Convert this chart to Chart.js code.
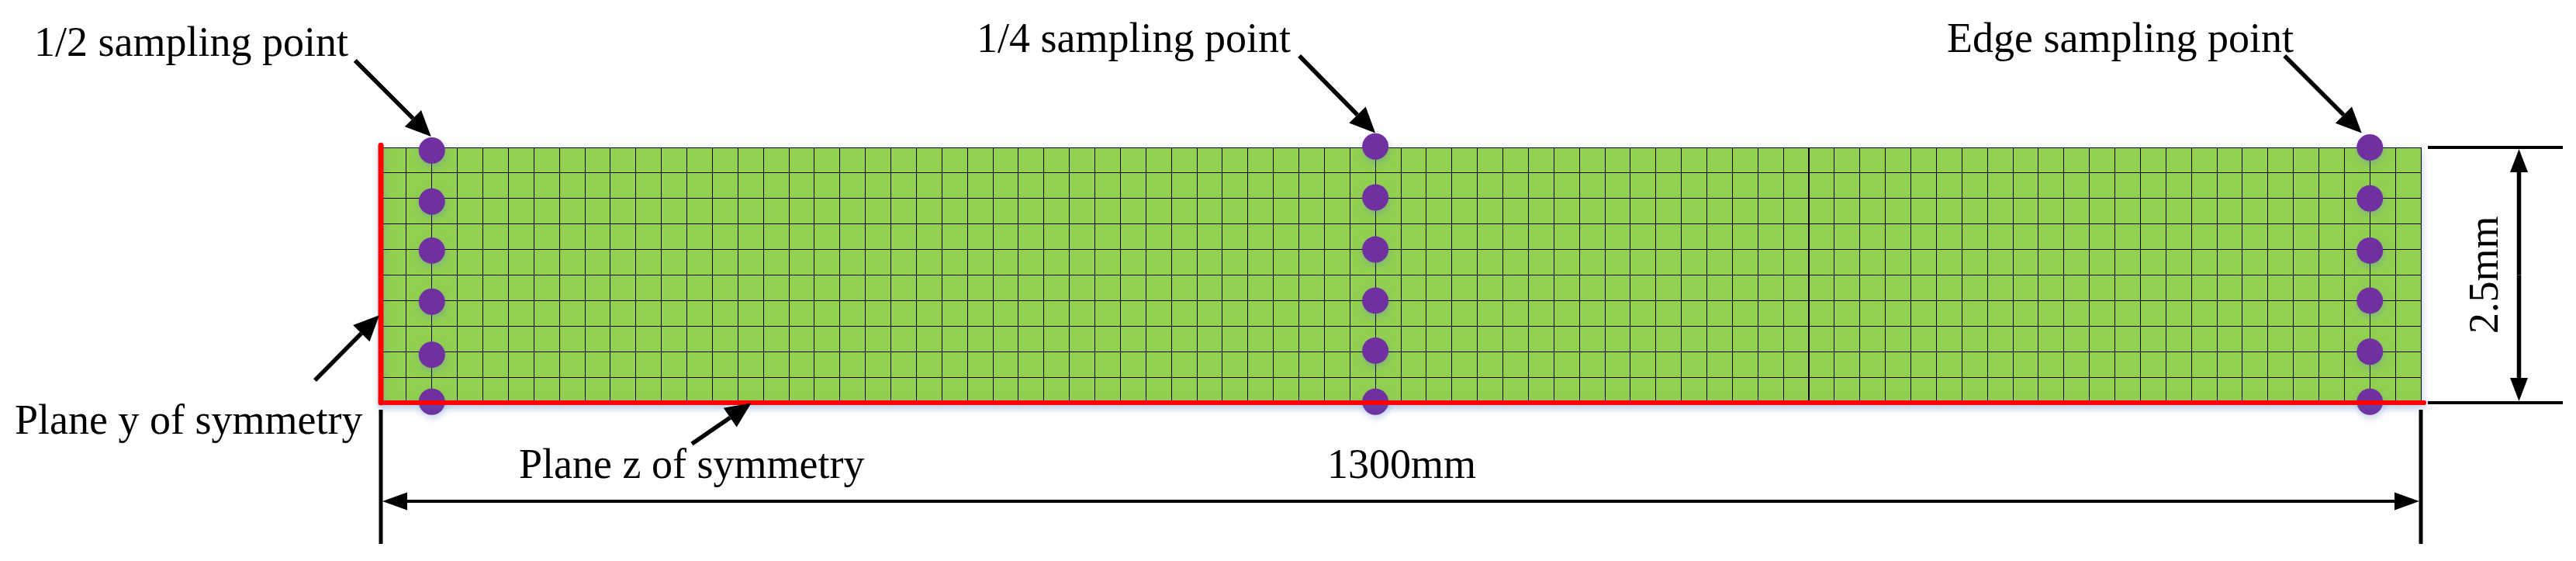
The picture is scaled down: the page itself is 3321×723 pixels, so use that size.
<!DOCTYPE html>
<html>
    <head>
        <meta charset="utf-8">
        <style>
            html, body { margin: 0; padding: 0; background: #fff; }
            canvas { display: block; }
        </style>
        <script src="https://cdn.jsdelivr.net/npm/chart.js@4/dist/chart.umd.js"></script>
    </head>
    <body>
        <canvas id="myChart" width="3321" height="723"></canvas>

        <script>
            // plate size in mm and the mesh step along each side
            const plateLength = 1300;
            const plateHeight = 2.5;
            const meshStepX = 16.25;
            const meshStepY = 0.25;

            // sampling points, [x, y] in mm
            const halfPoints = [[32.5, 2.47], [32.5, 1.97], [32.5, 1.49], [32.5, 0.99], [32.5, 0.47], [32.5, 0.01]];
            const quarterPoints = [[633.75, 2.51], [633.75, 2.01], [633.75, 1.50], [633.75, 1.00], [633.75, 0.51], [633.75, 0.01]];
            const edgePoints = [[1267.5, 2.50], [1267.5, 2.00], [1267.5, 1.49], [1267.5, 1.00], [1267.5, 0.50], [1267.5, 0.01]];

            // symmetry planes
            const planeY = [[0, 0], [0, 2.52]];
            const planeZ = [[0, 0], [1302, 0]];

            const labelTexts = ['1/2 sampling point', '1/4 sampling point', 'Edge sampling point', 'Plane y of symmetry', 'Plane z of symmetry', '1300mm', '2.5mm'];

            // where the annotations sit: a point in mm plus a pixel offset
            const labelSpots = [
                { at: [0, 2.5], dx: -447, dy: -118.5 },
                { at: [0, 2.5], dx: 768, dy: -123 },
                { at: [0, 2.5], dx: 2019, dy: -123 },
                { at: [0, 0], dx: -472, dy: 39.5 },
                { at: [0, 0], dx: 178, dy: 97 },
                { at: [0, 0], dx: 1220, dy: 97 },
            ];
            const arrows = [
                { at: [32.5, 2.5], tail: [-99, -112], tip: [-1, -14] },
                { at: [633.75, 2.5], tail: [-98, -118], tip: [0, -18.5] },
                { at: [1267.5, 2.5], tail: [-110, -118], tip: [-10.5, -18.5] },
                { at: [0, 0.85], tail: [-85, 83], tip: [-2, -1] },
                { at: [236, 0], tail: [-76.5, 53], tip: [0, 0.5] },
            ];

            const GREEN = '#92D050';
            const PURPLE = '#7030A0';
            const RED = '#FF0000';
            const FONT = '54px "Liberation Serif"';

            function arrowLine(ctx, x1, y1, x2, y2, lineWidth, headLength, headWidth) {
                const angle = Math.atan2(y2 - y1, x2 - x1);
                const bx = x2 - headLength * Math.cos(angle);
                const by = y2 - headLength * Math.sin(angle);
                ctx.lineWidth = lineWidth;
                ctx.beginPath();
                ctx.moveTo(x1, y1);
                ctx.lineTo(bx, by);
                ctx.stroke();
                ctx.beginPath();
                ctx.moveTo(x2, y2);
                ctx.lineTo(bx - headWidth / 2 * Math.sin(angle), by + headWidth / 2 * Math.cos(angle));
                ctx.lineTo(bx + headWidth / 2 * Math.sin(angle), by - headWidth / 2 * Math.cos(angle));
                ctx.closePath();
                ctx.fill();
            }

            // green plate under the grid, with the soft blue shadow it has in the figure
            const plateFill = {
                id: 'plateFill',
                beforeDraw(chart) {
                    const { ctx, chartArea: a } = chart;
                    ctx.save();
                    ctx.shadowColor = 'rgba(90, 130, 200, 0.35)';
                    ctx.shadowBlur = 10;
                    ctx.shadowOffsetX = 2;
                    ctx.shadowOffsetY = 4;
                    ctx.fillStyle = GREEN;
                    ctx.fillRect(a.left, a.top, a.right - a.left, a.bottom - a.top);
                    ctx.restore();
                },
                beforeDatasetDraw(chart) {
                    const ctx = chart.ctx;
                    ctx.save();
                    ctx.shadowColor = 'rgba(90, 130, 200, 0.35)';
                    ctx.shadowBlur = 8;
                    ctx.shadowOffsetX = 1;
                    ctx.shadowOffsetY = 4;
                },
                afterDatasetDraw(chart) {
                    chart.ctx.restore();
                },
            };

            const annotations = {
                id: 'annotations',
                afterDatasetsDraw(chart) {
                    const { ctx, scales: { x, y } } = chart;
                    const px = (p) => [x.getPixelForValue(p[0]), y.getPixelForValue(p[1])];
                    ctx.save();
                    ctx.fillStyle = '#000';
                    ctx.strokeStyle = '#000';

                    // labels
                    ctx.font = FONT;
                    ctx.textBaseline = 'alphabetic';
                    labelSpots.forEach((spot, i) => {
                        const p = px(spot.at);
                        ctx.fillText(labelTexts[i], p[0] + spot.dx, p[1] + spot.dy);
                    });

                    // callout arrows
                    arrows.forEach((a) => {
                        const p = px(a.at);
                        arrowLine(ctx, p[0] + a.tail[0], p[1] + a.tail[1], p[0] + a.tip[0], p[1] + a.tip[1], 5.5, 33, 30);
                    });

                    // 1300mm dimension
                    const [x0, y0] = px([0, 0]);
                    const [x1, y1] = px([plateLength, plateHeight]);
                    ctx.lineWidth = 5;
                    ctx.beginPath();
                    ctx.moveTo(x0, y0 + 9);
                    ctx.lineTo(x0, y0 + 182);
                    ctx.moveTo(x1, y0 + 9);
                    ctx.lineTo(x1, y0 + 182);
                    ctx.stroke();
                    const dimY = y0 + 127;
                    arrowLine(ctx, (x0 + x1) / 2, dimY, x0 + 2, dimY, 4, 32, 23);
                    arrowLine(ctx, (x0 + x1) / 2, dimY, x1 - 2, dimY, 4, 32, 23);

                    // 2.5mm dimension
                    ctx.lineWidth = 4;
                    ctx.beginPath();
                    ctx.moveTo(x1 + 9, y1);
                    ctx.lineTo(x1 + 183, y1);
                    ctx.moveTo(x1 + 9, y0);
                    ctx.lineTo(x1 + 183, y0);
                    ctx.stroke();
                    const dimX = x1 + 126.5;
                    arrowLine(ctx, dimX, (y0 + y1) / 2, dimX, y1 + 2, 5.5, 30, 23);
                    arrowLine(ctx, dimX, (y0 + y1) / 2, dimX, y0 - 2, 5.5, 30, 23);

                    ctx.translate(x1 + 98.5, y0 - 89);
                    ctx.rotate(-Math.PI / 2);
                    ctx.fillText(labelTexts[6], 0, 0);
                    ctx.restore();
                },
            };

            const sampleDataset = (data) => ({
                data,
                type: 'scatter',
                backgroundColor: PURPLE,
                borderColor: PURPLE,
                pointRadius: 17,
                pointBorderWidth: 0,
                order: 2,
                clip: false,
            });
            const planeDataset = (data, borderWidth) => ({
                data,
                type: 'line',
                borderColor: RED,
                borderWidth,
                borderCapStyle: 'round',
                pointRadius: 0,
                order: 1,
                clip: false,
            });

            new Chart(document.getElementById('myChart'), {
                type: 'scatter',
                data: {
                    datasets: [
                        sampleDataset(halfPoints),
                        sampleDataset(quarterPoints),
                        sampleDataset(edgePoints),
                        planeDataset(planeY, 7),
                        planeDataset(planeZ, 6),
                    ],
                },
                options: {
                    responsive: false,
                    animation: false,
                    devicePixelRatio: 1,
                    layout: { padding: { left: 491, right: 200, top: 190, bottom: 204 } },
                    plugins: { legend: { display: false }, tooltip: { enabled: false } },
                    scales: {
                        x: {
                            type: 'linear',
                            min: 0,
                            max: plateLength,
                            border: { display: false },
                            grid: {
                                color: '#000',
                                drawTicks: false,
                                // the figure has one heavier seam line at 910 mm
                                lineWidth: (c) => (c.tick && Math.abs(c.tick.value - 910) < 1 ? 2 : 1),
                            },
                            ticks: { display: false, stepSize: meshStepX, autoSkip: false },
                        },
                        y: {
                            type: 'linear',
                            min: 0,
                            max: plateHeight,
                            border: { display: false },
                            grid: { color: '#000', drawTicks: false, lineWidth: 1 },
                            ticks: { display: false, stepSize: meshStepY, autoSkip: false },
                        },
                    },
                },
                plugins: [plateFill, annotations],
            });
        </script>
    </body>
</html>
